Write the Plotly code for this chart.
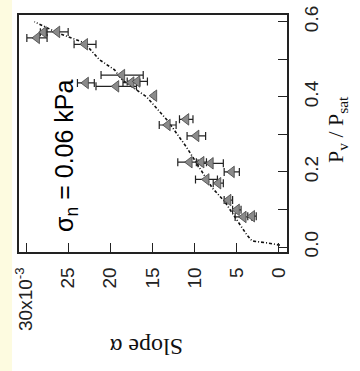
import plotly.graph_objects as go

# Measured slope (x1e-3) versus relative vapour pressure, with error bars
slope = [28.7, 27.9, 26.3, 23.0, 22.9, 18.6, 19.3, 17.5, 16.8, 14.8, 13.2, 11.0,
         9.8, 10.6, 9.2, 8.1, 5.6, 8.6, 7.2, 6.0, 5.0, 4.2, 3.2]
p_ratio = [0.557, 0.572, 0.573, 0.540, 0.437, 0.458, 0.428, 0.438, 0.441, 0.403,
           0.325, 0.340, 0.296, 0.226, 0.226, 0.223, 0.200, 0.180, 0.170, 0.125,
           0.099, 0.080, 0.082]
slope_err = [1.2, 0.4, 1.3, 1.3, 1.0, 2.5, 2.4, 1.0, 1.2, 0.0, 1.0, 0.8,
             1.1, 1.4, 0.6, 1.5, 0.9, 1.3, 0.6, 0.5, 0.5, 1.0, 0.5]

# Model curve
curve_slope = [-0.1, 1.4, 3.2, 3.8, 5.0, 6.4, 7.9, 9.0, 11.0, 13.3, 15.7, 18.6,
               19.5, 21.3, 23.1, 26.3, 29.0]
curve_p = [0.005, 0.011, 0.016, 0.032, 0.072, 0.120, 0.157, 0.197, 0.267, 0.339,
           0.400, 0.445, 0.472, 0.499, 0.544, 0.571, 0.600]

x_ticks = [30, 25, 20, 15, 10, 5, 0]
x_ticktext = ["30x10<sup>-3</sup>", "25", "20", "15", "10", "5", "0"]
y_ticks = [0.0, 0.2, 0.4, 0.6]
y_ticktext = ["0.0", "0.2", "0.4", "0.6"]

fig = go.Figure()

fig.add_trace(go.Scatter(
    x=curve_slope, y=curve_p, mode="lines",
    line=dict(color="#111111", width=1.6, dash="3px,2px,1px,2px"),
    hoverinfo="skip", showlegend=False,
))

fig.add_trace(go.Scatter(
    x=slope, y=p_ratio, mode="markers",
    marker=dict(symbol="triangle-left", size=10, color="#8a8a8a",
                line=dict(color="#444444", width=0.8)),
    error_x=dict(type="data", array=slope_err, visible=True,
                 color="#222222", thickness=1.2, width=4),
    showlegend=False,
))

tick_font = dict(family="Liberation Sans, Arial, sans-serif", size=19, color="#222222")

fig.update_xaxes(
    range=[30.83, -0.95], tickvals=x_ticks, ticktext=x_ticktext, tickangle=-90,
    ticks="inside", ticklen=9, tickwidth=1.3, tickcolor="#222222",
    showline=True, linecolor="#222222", linewidth=1.5, mirror=True,
    showgrid=False, zeroline=False, tickfont=tick_font, ticklabelstandoff=6,
    automargin=False,
)
fig.update_yaxes(
    range=[-0.0133, 0.618], side="right", tickvals=y_ticks, ticktext=y_ticktext,
    tickangle=-90, ticks="inside", ticklen=9, tickwidth=1.3, tickcolor="#222222",
    minor=dict(dtick=0.1, tick0=0, ticks="inside", ticklen=9, tickwidth=1.3,
               tickcolor="#222222", showgrid=False),
    showline=True, linecolor="#222222", linewidth=1.5, mirror=True,
    showgrid=False, zeroline=False, tickfont=tick_font, ticklabelstandoff=6,
    automargin=False,
)

fig.add_annotation(
    text="P<sub>v</sub> / P<sub>sat</sub>", xref="paper", yref="paper",
    x=1.187, y=0.515, xanchor="center", yanchor="middle",
    textangle=-90, showarrow=False,
    font=dict(family="Liberation Serif, Times New Roman, serif", size=22, color="#111111"),
)
fig.add_annotation(
    text="Slope \u03b1", xref="paper", yref="paper",
    x=0.474, y=-0.401, xanchor="center", yanchor="middle",
    textangle=180, showarrow=False,
    font=dict(family="Liberation Serif, Times New Roman, serif", size=24, color="#111111"),
)
fig.add_annotation(
    text="\u03c3<sub>n</sub> = 0.06 kPa", xref="paper", yref="paper",
    x=0.175, y=0.405, xanchor="center", yanchor="middle",
    textangle=-90, showarrow=False,
    font=dict(family="Liberation Sans, Arial, sans-serif", size=25, color="#000000"),
)

# pale strip along the left edge of the page
fig.add_shape(type="rect", xref="paper", yref="paper",
              x0=-0.075, x1=-0.026, y0=-0.55, y1=1.1,
              fillcolor="#fdfbe0", line=dict(width=0), layer="below")

fig.update_layout(
    width=360, height=371,
    margin=dict(l=19, r=73, t=15, b=119),
    paper_bgcolor="white", plot_bgcolor="white",
)

fig.write_html("out.html")
